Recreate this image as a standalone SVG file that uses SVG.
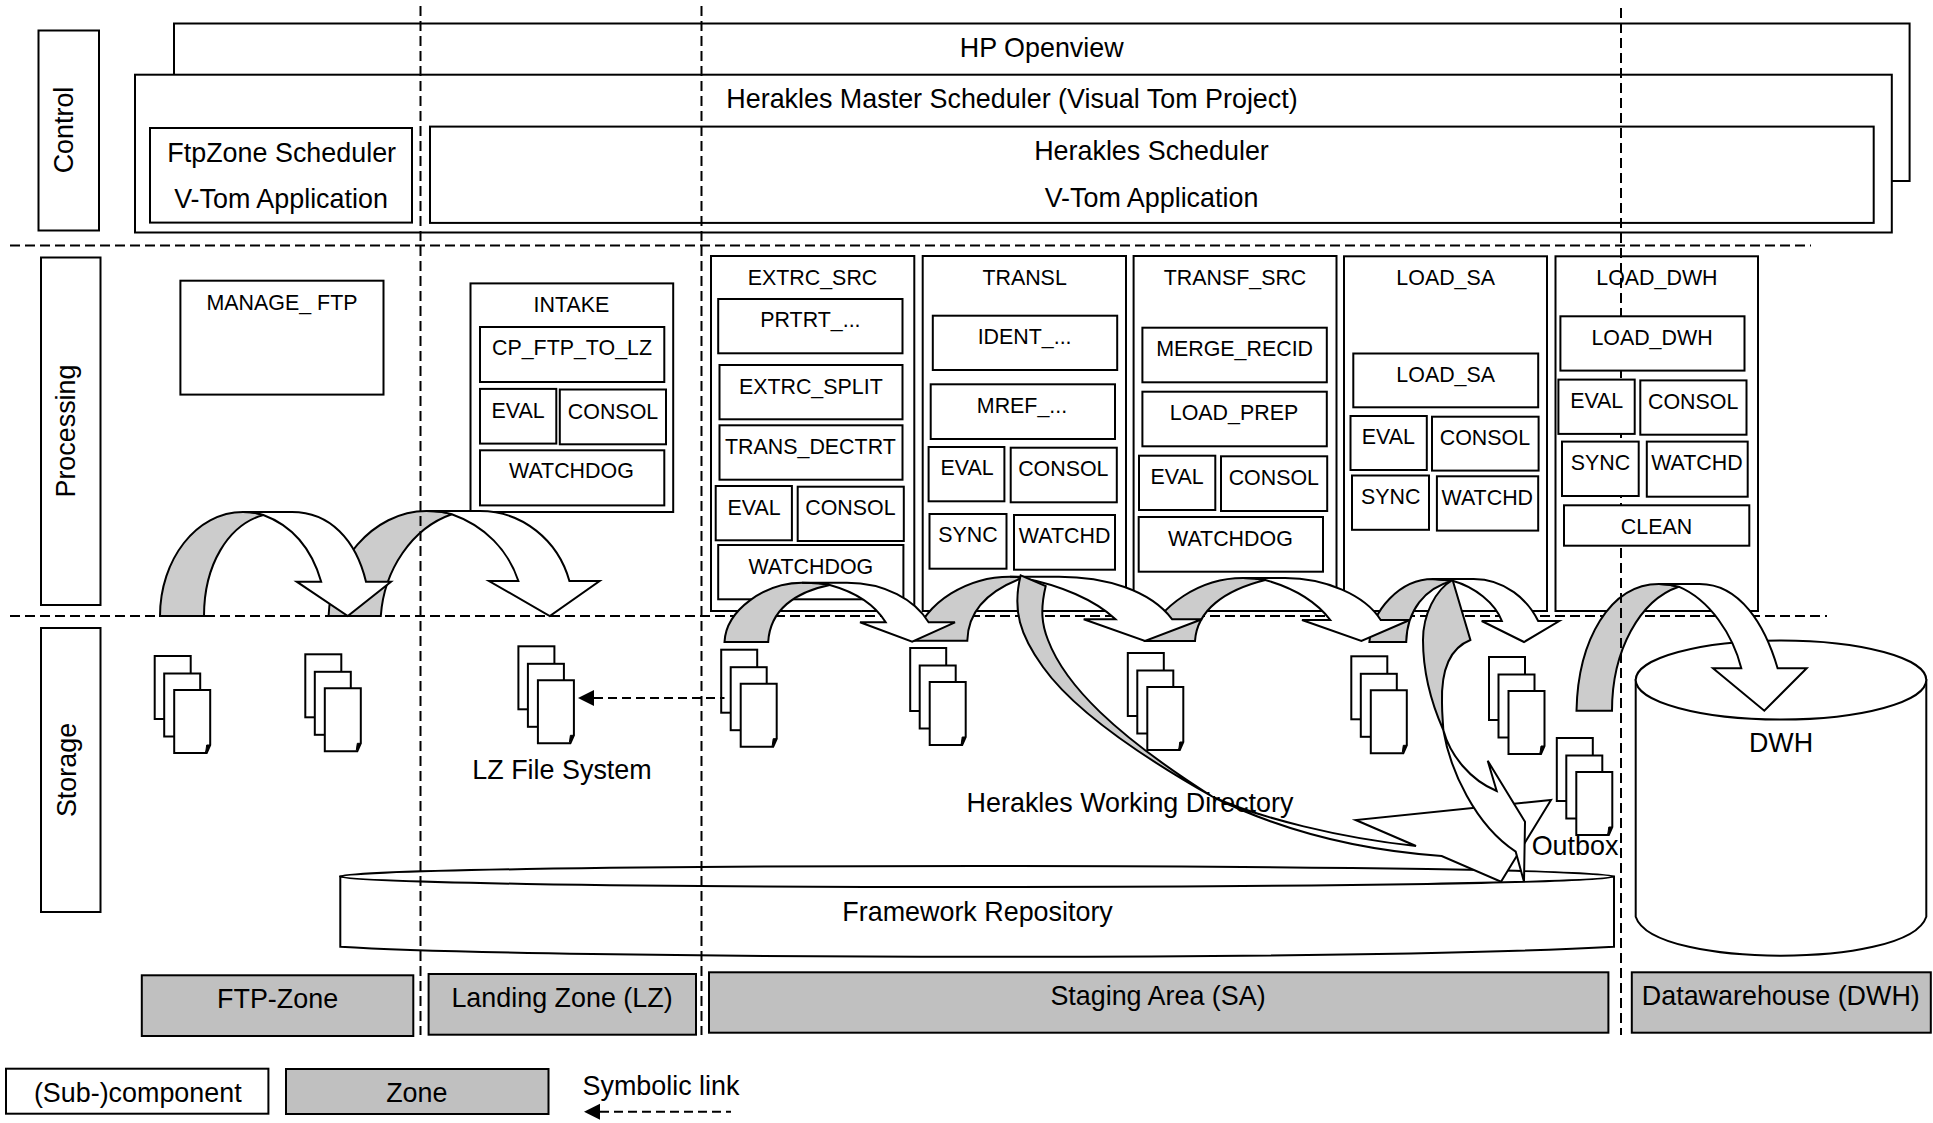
<svg xmlns="http://www.w3.org/2000/svg" xmlns:xlink="http://www.w3.org/1999/xlink" width="1933" height="1123" viewBox="0 0 1933 1123">
<style>
text{font-family:"Liberation Sans",Arial,sans-serif;fill:#000;text-anchor:middle}
.b{font-size:26.9px}.s{font-size:21.4px}
rect,.sh{fill:#fff;stroke:#000;stroke-width:2}
rect.z{fill:#c0c0c0}
.dash{fill:none;stroke:#000;stroke-width:2;stroke-dasharray:10 5}
.g{fill:#ccc;stroke:#000;stroke-width:2;stroke-linejoin:miter}
.w{fill:#fff;stroke:#000;stroke-width:2;stroke-linejoin:miter}
.nf{fill:none;stroke:#000;stroke-width:2}
.sl{fill:none;stroke:#000;stroke-width:2;stroke-dasharray:9 5}
</style>
<defs>
<g id="stack">
<rect x="0" y="0" width="36" height="63"/>
<rect x="9.5" y="17.5" width="36" height="63"/>
<path class="sh" d="M19.5,34H55.5V89L52,97H19.5Z"/>
<path d="M51,96L52,89H55.5Z" fill="#000" stroke="#000"/>
</g>
<marker id="ah" markerUnits="userSpaceOnUse" markerWidth="16" markerHeight="16" refX="16" refY="8" orient="0" overflow="visible"><path d="M0,8L16,0V16Z" fill="#000"/></marker>
</defs>

<g id="swimlane-dividers">
<path class="dash" d="M10,245.5H1811"/>
<path class="dash" d="M10,616H1827"/>
</g>

<g id="lane-control"><rect x="38.5" y="30.5" width="60.5" height="200"/><text class="b" transform="translate(72.5,130) rotate(-90)">Control</text></g>
<g id="lane-processing"><rect x="41" y="257.5" width="59.5" height="347.5"/><text class="b" transform="translate(75,431) rotate(-90)">Processing</text></g>
<g id="lane-storage"><rect x="41" y="628" width="59.5" height="284"/><text class="b" transform="translate(76,770) rotate(-90)">Storage</text></g>

<g id="hp-openview"><path class="nf" d="M174,75V23.5H1909.6V181H1892"/><text class="b" x="1041.7" y="57">HP Openview</text></g>
<g id="master-scheduler"><rect x="135" y="74.7" width="1756.8" height="157.8"/><text class="b" x="1012" y="108">Herakles Master Scheduler (Visual Tom Project)</text></g>
<g id="ftpzone-scheduler"><rect x="150" y="128" width="262" height="94.6"/><text class="b" x="281.7" y="162">FtpZone Scheduler</text><text class="b" x="281" y="208.4">V-Tom Application</text></g>
<g id="herakles-scheduler"><rect x="430" y="126.6" width="1443.7" height="96.3"/><text class="b" x="1151.5" y="160">Herakles Scheduler</text><text class="b" x="1151.5" y="207">V-Tom Application</text></g>

<g id="manage-ftp"><rect x="180.4" y="280.7" width="203.1" height="113.9"/><text class="s" x="282" y="309.8">MANAGE_ FTP</text></g>

<g id="intake"><rect x="470.5" y="283.4" width="202.7" height="228.6"/><text class="s" x="571.4" y="311.5">INTAKE</text>
<rect x="480" y="327" width="184.3" height="55"/><text class="s" x="572" y="355.4">CP_FTP_TO_LZ</text>
<rect x="480" y="388.9" width="76.3" height="54.7"/><text class="s" x="518" y="418">EVAL</text>
<rect x="559.8" y="389.5" width="106.2" height="54.8"/><text class="s" x="613" y="419">CONSOL</text>
<rect x="480" y="450.3" width="184.3" height="55.1"/><text class="s" x="571.4" y="478">WATCHDOG</text></g>

<g id="extrc-src"><rect x="711" y="256" width="203.3" height="355"/><text class="s" x="812.5" y="285">EXTRC_SRC</text>
<rect x="718.2" y="299" width="184.3" height="54.3"/><text class="s" x="810.4" y="326.7">PRTRT_...</text>
<rect x="719.5" y="365" width="183" height="54.3"/><text class="s" x="810.8" y="393.7">EXTRC_SPLIT</text>
<rect x="719.5" y="425.3" width="183" height="54.4"/><text class="s" x="810.4" y="454">TRANS_DECTRT</text>
<rect x="715.7" y="486" width="76.2" height="54.3"/><text class="s" x="754" y="515">EVAL</text>
<rect x="797.7" y="486.7" width="106.1" height="54.3"/><text class="s" x="850.4" y="515">CONSOL</text>
<rect x="718.2" y="545" width="185.2" height="54.3"/><text class="s" x="810.8" y="574">WATCHDOG</text></g>

<g id="transl"><rect x="922.7" y="256" width="203.3" height="355"/><text class="s" x="1024.6" y="285">TRANSL</text>
<rect x="932.8" y="315.7" width="184.4" height="54.3"/><text class="s" x="1024.6" y="344">IDENT_...</text>
<rect x="930.7" y="384.3" width="184.3" height="54.7"/><text class="s" x="1022" y="412.7">MREF_...</text>
<rect x="928.6" y="447" width="75.8" height="54.3"/><text class="s" x="967" y="475">EVAL</text>
<rect x="1010.7" y="447.7" width="106.1" height="54.6"/><text class="s" x="1063.3" y="476">CONSOL</text>
<rect x="929.5" y="514" width="77" height="54.7"/><text class="s" x="968" y="541.7">SYNC</text>
<rect x="1014" y="515" width="101" height="54.7"/><text class="s" x="1064.6" y="542.7">WATCHD</text></g>

<g id="transf-src"><rect x="1133.6" y="256" width="202.9" height="355"/><text class="s" x="1235" y="285">TRANSF_SRC</text>
<rect x="1142.4" y="327.7" width="184.4" height="54.6"/><text class="s" x="1234.6" y="355.7">MERGE_RECID</text>
<rect x="1142.4" y="391.7" width="184.4" height="54.6"/><text class="s" x="1234" y="420">LOAD_PREP</text>
<rect x="1139" y="455.7" width="76.3" height="54.3"/><text class="s" x="1177" y="484">EVAL</text>
<rect x="1221" y="456.3" width="106.2" height="54.7"/><text class="s" x="1273.8" y="485">CONSOL</text>
<rect x="1138.7" y="517" width="184.3" height="54.7"/><text class="s" x="1230.4" y="545.7">WATCHDOG</text></g>

<g id="load-sa"><rect x="1344" y="256.3" width="203" height="354.7"/><text class="s" x="1445.7" y="285">LOAD_SA</text>
<rect x="1353.3" y="353.5" width="184.9" height="53.8"/><text class="s" x="1445.7" y="382">LOAD_SA</text>
<rect x="1350.5" y="416" width="76.3" height="54"/><text class="s" x="1388.4" y="444">EVAL</text>
<rect x="1432" y="416.7" width="106.6" height="53.9"/><text class="s" x="1484.9" y="445">CONSOL</text>
<rect x="1352" y="475.5" width="77" height="54.3"/><text class="s" x="1390.8" y="504">SYNC</text>
<rect x="1436.9" y="476.3" width="101.3" height="54.3"/><text class="s" x="1487.3" y="505">WATCHD</text></g>

<g id="load-dwh-frame"><rect x="1555.5" y="256.3" width="202.5" height="354.7"/></g>

<g id="framework-repository">
<path class="sh" d="M340.3,876.5V946.7C440,953 700,956.7 977,956.7C1260,956.7 1500,953 1614,946.7V876.5Z"/>
<ellipse class="sh" cx="977" cy="876.5" rx="637" ry="10.5"/>
<text class="b" x="977.6" y="921">Framework Repository</text>
</g>
<g id="dwh">
<path class="sh" d="M1635.7,680V916.7C1645,945 1720,955.7 1781,955.7C1842,955.7 1917,945 1926.3,916.7V680Z"/>
<ellipse class="sh" cx="1781" cy="680" rx="145.3" ry="39.5"/>
<text class="b" x="1781" y="752">DWH</text>
</g>

<g id="ftp-files-1"><use href="#stack" x="154.7" y="656"/></g>
<g id="ftp-files-2"><use href="#stack" x="305.3" y="654.3"/></g>
<g id="lz-files"><use href="#stack" x="518.4" y="646.3"/><text class="b" x="562" y="779">LZ File System</text></g>
<g id="sa-files-1"><use href="#stack" x="721.2" y="649.7"/></g>
<g id="sa-files-2"><use href="#stack" x="910.2" y="648"/></g>
<g id="sa-files-3"><use href="#stack" x="1127.8" y="653"/></g>
<g id="sa-files-4"><use href="#stack" x="1351.3" y="656.3"/></g>
<g id="sa-files-5"><use href="#stack" x="1489" y="657"/></g>
<g id="outbox"><use href="#stack" x="1556.8" y="738"/><text class="b" x="1575" y="855">Outbox</text></g>

<g id="connectors">
<g id="flow-b"><path class="g" d="M328.6,616C330,565 372,511 426.5,511C435,511 445,512 451.8,514.3C412,528 384,570 380.8,616Z"/><path class="w" d="M426.5,511L480,511C522,511 558,540 569.4,581L599.6,581L549.8,616L489,581L518.4,581C508,550 485,526 451.8,514.3C445,512 435,511 426.5,511Z"/></g>
<g id="flow-a"><path class="g" d="M160,616C160,560 196,512 243,512C250,512 258,513 263.3,515C228,525 204,565 204,616Z"/><path class="w" d="M243,512L292,512C330,512 356,540 366,581.7L391,581.7L347.8,616L296.7,581.7L321.2,581.7C312,550 293,526 263.3,515C258,513 250,512 243,512Z"/></g>
<g id="flow-g"><path class="g" d="M1576.5,710.7C1578,640 1610,584 1659,584C1665,584 1673,585 1678.7,586.7C1640,600 1612,650 1612,710.7Z"/><path class="w" d="M1659,584L1699.7,584C1740,584 1765,625 1777.6,668.3L1806.7,668.3L1764.3,710.7L1713,668.3L1741.3,668.3C1733,635 1710,600 1678.7,586.7C1673,585 1665,584 1659,584Z"/></g>
<g id="flow-f"><path class="g" d="M1369.4,642C1372,610 1400,579 1433,579L1452.6,580.7C1425,588 1407,610 1406.2,642Z"/><path class="w" d="M1433,579L1473.6,579C1505,579 1528,600 1538.2,621L1559.2,621L1524,642L1481.7,621L1501.9,621C1495,603 1475,587 1452.6,580.7L1433,579Z"/></g>
<g id="flow-e"><path class="g" d="M1145,641C1160,605 1200,578 1243,578C1250,578 1260,579 1265.3,580C1225,590 1197,610 1195,641Z"/><path class="w" d="M1243,578L1285,578C1325,578 1365,595 1380.7,620L1409.8,620L1361.4,641L1302,620L1330.3,620C1315,600 1290,587 1265.3,580C1260,579 1250,578 1243,578Z"/></g>
<g id="flow-d"><path class="g" d="M914,640.7C925,600 970,576.7 1010,576.7C1015,576.7 1020,577 1022.4,578C990,590 968,610 967.3,640.7Z"/><path class="w" d="M1010,576.7L1059,576.7C1105,576.7 1150,590 1172.2,619.3L1202,619.3L1145,641L1083.7,619.3L1115.5,619.3C1095,600 1060,585 1022.4,578C1020,577 1015,576.7 1010,576.7Z"/></g>
<g id="flow-c"><path class="g" d="M724.5,642C726,610 765,582.7 802,582.7C812,582.7 822,583 829.8,585C795,592 770,610 768.2,642Z"/><path class="w" d="M802,582.7L847,582.7C885,582.7 915,600 928.6,622.3L955,622.3L912.2,641.7L860,622.3L885.7,622.3C875,605 855,592 829.8,585C822,583 812,582.7 802,582.7Z"/></g>
<g id="flow-h"><path class="g" d="M1020.7,575.3L1045.7,586C1040,610 1042,625 1048,640C1065,685 1115,735 1213,797C1130,750 1070,705 1043,667C1020,635 1012,610 1020.7,575.3Z"/><path class="w" d="M1213,797C1260,818 1340,838 1416,846L1355.7,820L1551,800L1501,881.7L1441.7,856C1370,851 1290,835 1213,797Z"/></g>
<g id="flow-i"><path class="g" d="M1452.6,580L1470.4,640C1450,648 1441,670 1442,703C1442,715 1443,722 1443.3,730C1430,700 1423,670 1423,640C1423,615 1435,590 1452.6,580Z"/><path class="w" d="M1443.3,730C1450,770 1475,825 1515.7,851.7L1524,881.7L1525,821.7L1487.7,760.7L1496.7,791C1470,780 1450,755 1443.3,730Z"/></g>
<path id="symbolic-link" class="sl" marker-start="url(#ah)" d="M594,698H724.5"/>
</g>

<g id="label-working-dir"><text class="b" x="1130" y="811.7">Herakles Working Directory</text></g>

<g id="zone-dividers">
<path class="dash" d="M420.5,6V1035"/>
<path class="dash" d="M701.5,6V1035"/>
<path class="dash" d="M1621,8V1035"/>
</g>

<g id="load-dwh"><text class="s" x="1656.9" y="285">LOAD_DWH</text>
<rect x="1560.4" y="316.3" width="184.1" height="54.3"/><text class="s" x="1652" y="345.3">LOAD_DWH</text>
<rect x="1558.4" y="379.6" width="76.3" height="54.3"/><text class="s" x="1596.7" y="408">EVAL</text>
<rect x="1640.3" y="380.4" width="106.2" height="54.3"/><text class="s" x="1693.2" y="409.4">CONSOL</text>
<rect x="1562" y="441.6" width="76.7" height="54.4"/><text class="s" x="1600.4" y="470">SYNC</text>
<rect x="1646.8" y="441.6" width="100.9" height="55.1"/><text class="s" x="1696.9" y="470">WATCHD</text>
<rect x="1564" y="505.3" width="185.3" height="40.4"/><text class="s" x="1656.5" y="534">CLEAN</text></g>

<g id="zone-ftp"><rect class="z" x="141.8" y="975.3" width="271.5" height="60.7"/><text class="b" x="277.6" y="1008">FTP-Zone</text></g>
<g id="zone-lz"><rect class="z" x="428.6" y="974" width="267.4" height="60.7"/><text class="b" x="562" y="1006.7">Landing Zone (LZ)</text></g>
<g id="zone-sa"><rect class="z" x="709" y="972.3" width="899.4" height="60.4"/><text class="b" x="1158" y="1005">Staging Area (SA)</text></g>
<g id="zone-dwh"><rect class="z" x="1631.8" y="972.3" width="299" height="60.4"/><text class="b" x="1780.8" y="1005">Datawarehouse (DWH)</text></g>

<g id="legend">
<g id="legend-component"><rect x="6" y="1068.7" width="262.4" height="45"/><text class="b" x="137.8" y="1101.7">(Sub-)component</text></g>
<g id="legend-zone"><rect class="z" x="286" y="1069" width="262.5" height="45"/><text class="b" x="416.8" y="1102">Zone</text></g>
<g id="legend-link"><text class="b" x="661" y="1095">Symbolic link</text><path class="sl" marker-start="url(#ah)" d="M600,1111.7H731"/></g>
</g>
</svg>
